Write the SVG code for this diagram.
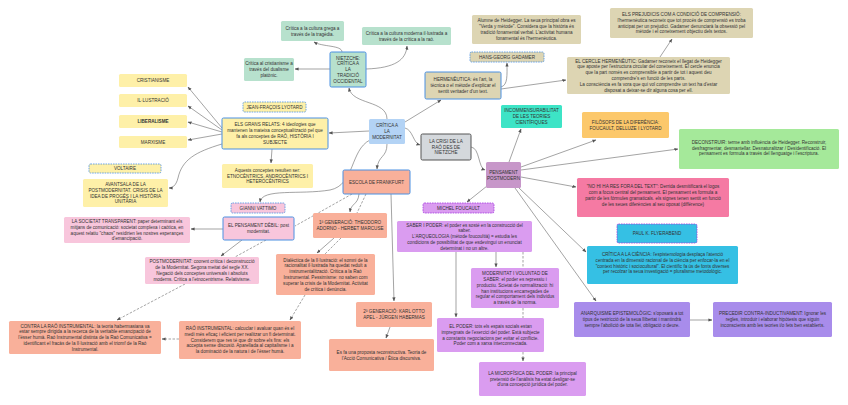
<svg xmlns="http://www.w3.org/2000/svg" width="848" height="405" viewBox="0 0 848 405">
<defs>
<marker id="ah" viewBox="0 0 10 10" refX="9" refY="5" markerWidth="4" markerHeight="4" markerUnits="userSpaceOnUse" orient="auto"><path d="M0,1 L10,5 L0,9 z" fill="#555"/></marker>
<style>
text{font-family:"Liberation Sans",Arial,sans-serif;font-size:4.6px;fill:#333;text-anchor:middle}
.b{font-weight:bold}
rect{rx:1.5;ry:1.5}
.c path{fill:none;stroke:#666;stroke-width:0.6;marker-end:url(#ah)}
.c .d{stroke-dasharray:2.5 1.5}
.c .n{marker-end:none}
.sel{stroke:#4a90e2;stroke-width:1}
.nm{stroke:#4a90e2;stroke-width:0.8;stroke-dasharray:1.6 0.9}
.np{stroke:#a53bdf;stroke-width:0.8;stroke-dasharray:1.6 0.9}
.yel{fill:#fef0a8}.grn{fill:#b7e1cd}.lb{fill:#b3d3f5}.pnk{fill:#f8c6dc}.sal{fill:#f9b09a}.tan{fill:#ddd5b3}
.gry{fill:#d4d8dc;stroke:#555;stroke-width:1}.mau{fill:#c797c9}.tea{fill:#3de4c6}.org{fill:#fcc86b}
.lg{fill:#a5e99a}.hp{fill:#f57aa3}.cy{fill:#35c0e4}.pur{fill:#a88ceb}.vio{fill:#da9cf0}
</style>
</defs>
<rect x="0" y="0" width="848" height="405" fill="#ffffff" rx="0" ry="0"/>
<g id="connectors" class="c">
<path d="M387,119 C387,100 352,105 349,88"/>
<path d="M342,52 C342,45 322,47 314,42"/>
<path d="M366,69 C395,68 406,60 407,46"/>
<path d="M330,69 L295,69"/>
<path d="M369,131 L329,133"/>
<path d="M222,128 L188,87"/>
<path d="M222,130 L188,106"/>
<path d="M222,132 L188,122"/>
<path d="M222,134 L188,140"/>
<path d="M222,144 C195,152 182,160 178,178 C176,186 172,188 169,188"/>
<path d="M272,149 L271,163"/>
<path d="M370,140 C350,150 355,185 330,190 C300,195 262,188 260,202"/>
<path d="M387,144 C387,158 378,155 377,169"/>
<path class="d n" d="M352,194 L295,226"/>
<path d="M223,229 L191,229"/>
<path d="M242,240 L221,256"/>
<path class="d n" d="M266,240 L235,257"/>
<path d="M359,194 C358,205 351,203 350,212"/>
<path class="d n" d="M366,194 L357,213"/>
<path d="M391,194 L394,301"/>
<path d="M334,238 L317,253"/>
<path class="d n" d="M341,238 L325,254"/>
<path class="d" d="M305,295 L290,320"/>
<path class="d" d="M179,339 L162,339"/>
<path class="d" d="M185,284 L117,320"/>
<path d="M390,327 L386,338"/>
<path d="M405,122 L441,100"/>
<path d="M501,87 C508,85 507,75 507,63"/>
<path d="M501,89 L566,80"/>
<path d="M660,57 L672,39"/>
<path d="M405,128 C413,130 413,143 420,145"/>
<path d="M471,147 C480,148 478,168 485,170"/>
<path d="M509,162 L521,129"/>
<path d="M521,167 L596,140"/>
<path d="M521,170 L678,149"/>
<path d="M521,177 L576,187"/>
<path d="M519,188 L586,252"/>
<path d="M515,188 L596,301"/>
<path d="M487,186 L467,202"/>
<path d="M496,252 L496,267"/>
<path class="d n" d="M523,252 L523,268"/>
<path d="M456,252 L456,317"/>
<path class="d" d="M523,308 L523,361"/>
<path d="M690,320 L712,320"/>
</g>
<g id="critica-modernitat"><rect class="lb" x="369" y="119" width="36" height="25"/><text x="387" y="127.3">CRÍTICA A</text><text x="387" y="133.1">LA</text><text x="387" y="138.9">MODERNITAT</text></g>
<g id="nietzsche"><rect class="grn sel" x="330" y="52" width="36" height="35"/><text x="348" y="59.5">NIETZCHE:</text><text x="348" y="65.3">CRÍTICA A</text><text x="348" y="71.1">LA</text><text x="348" y="76.9">TRADICIÓ</text><text x="348" y="82.7">OCCIDENTAL</text></g>
<g id="grega"><rect class="grn" x="281" y="21" width="63" height="20"/><text x="312.5" y="29.7">Crítica a la cultura grega a</text><text x="312.5" y="35.5">través de la tragèdia.</text></g>
<g id="moderna"><rect class="grn" x="362" y="27" width="89" height="18"/><text x="406.5" y="34.7">Crítica a la cultura moderna il·lustrada a</text><text x="406.5" y="40.5">través de la crítica a la raó.</text></g>
<g id="crit-cristianisme"><rect class="grn" x="244" y="58" width="50" height="23"/><text x="269" y="65.3">Crítica al cristianisme a</text><text x="269" y="71.1">través del dualisme</text><text x="269" y="76.9">platònic.</text></g>
<g id="lyotard"><rect class="yel nm" x="243" y="102" width="63" height="10"/><text x="274.5" y="108.6">JEAN-FRAÇOIS LYOTARD</text></g>
<g id="grans-relats"><rect class="yel sel" x="222" y="118" width="106" height="31"/><text x="275" y="126.4">ELS GRANS RELATS: 4 ideologies que</text><text x="275" y="132.2">mantenen la mateixa conceptualització pel que</text><text x="275" y="138">fa als conceptes de RAÓ, HISTÒRIA I</text><text x="275" y="143.8">SUBJECTE</text></g>
<g id="cristianisme"><rect class="yel" x="119" y="74" width="68" height="13"/><text x="153" y="82.1">CRISTIANISME</text></g>
<g id="illustracio"><rect class="yel" x="119" y="94" width="68" height="13"/><text x="153" y="102.1">IL·LUSTRACIÓ</text></g>
<g id="liberalisme"><rect class="yel" x="119" y="115" width="68" height="13"/><text class="b" x="153" y="123.1">LIBERALISME</text></g>
<g id="marxisme"><rect class="yel" x="119" y="136" width="68" height="12"/><text x="153" y="143.6">MARXISME</text></g>
<g id="voltaire"><rect class="yel nm" x="89" y="164" width="72" height="9"/><text x="125" y="170.1">VOLTAIRE</text></g>
<g id="avantsala"><rect class="yel" x="83" y="179" width="85" height="28"/><text x="125.5" y="185.9">AVANTSALA DE LA</text><text x="125.5" y="191.7">POSTMODERNITAT. CRISIS DE LA</text><text x="125.5" y="197.5">IDEA DE PROGÉS I LA HISTÒRIA</text><text x="125.5" y="203.3">UNITÀRIA</text></g>
<g id="aquests"><rect class="yel" x="222" y="164" width="91" height="24"/><text x="267.5" y="171.8">Aquests conceptes resulten ser:</text><text x="267.5" y="177.6">ETNOCÈNTRICS, ANDROCÈNTRICS I</text><text x="267.5" y="183.4">HETEROCÈNTRICS</text></g>
<g id="vattimo"><rect class="pnk nm" x="231" y="203" width="54" height="10"/><text x="258" y="209.6">GIANNI VATTIMO</text></g>
<g id="pensament-debil"><rect class="pnk sel" x="223" y="217" width="71" height="23"/><text x="258.5" y="227.2">EL PENSAMENT DÈBIL: post</text><text x="258.5" y="233">modernitat.</text></g>
<g id="societat"><rect class="pnk" x="64" y="217" width="126" height="26"/><text x="127" y="222.9">LA SOCIETAT TRANSPARENT: paper determinant els</text><text x="127" y="228.7">mitjans de comunicació: societat complexa i caòtica, en</text><text x="127" y="234.5">aquest relatiu "chaos" residirien les nostres esperançes</text><text x="127" y="240.3">d'emancipació.</text></g>
<g id="postmodernitat"><rect class="pnk" x="145" y="257" width="114" height="27"/><text x="202" y="263.4">POSTMODERNITAT: coorent crítica i deconstrucció</text><text x="202" y="269.2">de la Modernitat. Segona meitat del segle XX.</text><text x="202" y="275">Negació dels conceptes universals i absoluts</text><text x="202" y="280.8">moderns. Crítica a l'etnocentrisme. Relativisme.</text></g>
<g id="frankfurt"><rect class="sal sel" x="343" y="170" width="67" height="24"/><text x="376.5" y="183.6">ESCOLA DE FRANKFURT</text></g>
<g id="gen1"><rect class="sal" x="313" y="213" width="74" height="25"/><text x="350" y="224.2">1ª GENERACIÓ: THEODORO</text><text x="350" y="230">ADORNO - HERBET MARCUSE</text></g>
<g id="dialectica"><rect class="sal" x="276" y="254" width="99" height="41"/><text x="325.5" y="261.6">Dialèctica de la Il·lustració: el somni de la</text><text x="325.5" y="267.4">racionalitat il·lustrada ha quedat reduït a</text><text x="325.5" y="273.2">instrumentalització. Crítica a la Raó</text><text x="325.5" y="279">Instrumental. Pessimisme: no saben com</text><text x="325.5" y="284.8">superar la crisis de la Modernitat. Activitat</text><text x="325.5" y="290.6">de crítica i denúncia.</text></g>
<g id="gen2"><rect class="sal" x="356" y="302" width="76" height="25"/><text x="394" y="313.2">2ª GENERACIÓ: KARL OTTO</text><text x="394" y="319">APEL - JÜRGEN HABERMAS</text></g>
<g id="proposta"><rect class="sal" x="329" y="339" width="105" height="32"/><text x="381.5" y="353.7">Es fa una proposta reconstructiva. Teoria de</text><text x="381.5" y="359.5">l'Acció Comunicativa / Ètica discursiva.</text></g>
<g id="rao-instrumental"><rect class="sal" x="179" y="321" width="122" height="38"/><text x="240" y="330">RAÓ INSTRUMENTAL: calcuclar i avaluar quan és el</text><text x="240" y="335.8">medi més eficaç i eficient per realitzar un fi determinat.</text><text x="240" y="341.6">Considerem que res té que dir sobre els fins: els</text><text x="240" y="347.4">accepta sense discusió. Aparellada al capitalisme i a</text><text x="240" y="353.2">la dominació de la natura i de l'ésser humà.</text></g>
<g id="contra-rao"><rect class="sal" x="9" y="321" width="152" height="33"/><text x="85" y="327.5">CONTRA LA RAÓ INSTRUMENTAL: la teoria habermasiana va</text><text x="85" y="333.3">estar sempre dirigida a la recerca de la veritable emancipació de</text><text x="85" y="339.1">l'ésser humà. Raó Instrumental distinta de la Raó Comunicativa =</text><text x="85" y="344.9">identificant el fracàs de la Il·lustració amb el triomf de la Raó</text><text x="85" y="350.7">Instrumental.</text></g>
<g id="crisi-rao"><rect class="gry" x="421" y="134" width="50" height="26"/><text x="446" y="142.8">LA CRISI DE LA</text><text x="446" y="148.6">RAÓ DES DE</text><text x="446" y="154.4">NIETZCHE</text></g>
<g id="pensament-postmodern"><rect class="mau" x="486" y="162" width="35" height="26"/><text x="503.5" y="173.7">PENSAMENT</text><text x="503.5" y="179.5">POSTMODERN</text></g>
<g id="hermeneutica"><rect class="tan sel" x="425" y="72" width="76" height="27"/><text x="463" y="81.3">HERMENÈUTICA: és l'art, la</text><text x="463" y="87.1">tècnica o el mètode d'explicar el</text><text x="463" y="92.9">sentit veritader d'un text.</text></g>
<g id="gadamer"><rect class="tan nm" x="470" y="52" width="74" height="10"/><text x="507" y="58.6">HANS-GEORG GADAMER</text></g>
<g id="alumne"><rect class="tan" x="472" y="15" width="109" height="29"/><text x="526.5" y="22.4">Alumne de Heidegger. La seua principal obra es</text><text x="526.5" y="28.2">"Verda y mètode". Considera que la història és</text><text x="526.5" y="34">tradició fonamental verbal. L'activitat humana</text><text x="526.5" y="39.8">fonamental és l'hermenèutica.</text></g>
<g id="prejudicis"><rect class="tan" x="610" y="8" width="143" height="30"/><text x="681.5" y="15.9">ELS PREJUDICIS COM A CONDICIÓ DE COMPRENSIÓ:</text><text x="681.5" y="21.7">l'hermenèutica reconeix que tot procés de comprensió es troba</text><text x="681.5" y="27.5">anticipat per un prejudici. Gadamer denunciarà la obsessió pel</text><text x="681.5" y="33.3">mètode i el coneixement objectiu dels textos.</text></g>
<g id="cercle"><rect class="tan" x="567" y="57" width="163" height="37"/><text x="648.5" y="62.6">EL CERCLE HERMENÈUTIC: Gadamer reconeix el llegat de Heidegger</text><text x="648.5" y="68.4">que aposte per l'estructura circular del coneixement. El cercle enuncia</text><text x="648.5" y="74.2">que la part només es comprensible a partir de tot i aquest deu</text><text x="648.5" y="80">comprendre's en funció de les parts.</text><text x="648.5" y="85.8">La consciència es fa vora que qui vol comprendre un text ha d'estar</text><text x="648.5" y="91.6">disposat a deixar-se dir alguna cosa per ell.</text></g>
<g id="incommensurabilitat"><rect class="tea" x="501" y="105" width="61" height="23"/><text x="531.5" y="112.3">INCOMMENSURABILITAT</text><text x="531.5" y="118.1">DE LES TEORIES</text><text x="531.5" y="123.9">CIENTÍFIQUES</text></g>
<g id="filosofs"><rect class="org" x="582" y="112" width="87" height="26"/><text x="625.5" y="123.7">FILÒSOFS DE LA DIFERÈNCIA:</text><text x="625.5" y="129.5">FOUCAULT, DELLUZE I LYOTARD</text></g>
<g id="deconstruir"><rect class="lg" x="679" y="129" width="160" height="40"/><text x="759" y="143.8">DECONSTRUIR: terme amb influència de Heidegger. Reconstruir,</text><text x="759" y="149.6">desfragmentar, desmantellar. Desnaturalitzar / Desidentificació. El</text><text x="759" y="155.4">pensament es formula a través del llenguatge i l'escriptura.</text></g>
<g id="no-hi-ha"><rect class="hp" x="577" y="178" width="152" height="39"/><text x="653" y="188.4">"NO HI HA RES FORA DEL TEXT": Derrida desmitificarà el logos</text><text x="653" y="194.2">com a focus central del pensament. El pensament es formula a</text><text x="653" y="200">partir de les fórmules gramaticals. els signes tenen sentit en funció</text><text x="653" y="205.8">de les seues diferències al seu oposat (différence)</text></g>
<g id="flyerabend"><rect class="cy np" x="617" y="224" width="80" height="19"/><text x="657" y="235.1">PAUL K. FLYERABEND</text></g>
<g id="critica-ciencia"><rect class="cy" x="587" y="246" width="151" height="38"/><text x="662.5" y="255.9">CRÍTICA A LA CIÈNCIA: l'espistemologia desplaça l'atenció</text><text x="662.5" y="261.7">centrada en la dimensió racional de la ciència per enfocar-la en  el</text><text x="662.5" y="267.5">"context històric i sociocultural". El científic fa ús de fonts diverses</text><text x="662.5" y="273.3">per recolzar la seua investigació = pluralisme metodològic.</text></g>
<g id="anarquisme"><rect class="pur" x="574" y="302" width="116" height="35"/><text x="632" y="315.3">ANARQUISME EPISTEMOLÒGIC: s'oposarà a tot</text><text x="632" y="321.1">tipus de restricció de la seua llibertat i mantindrà</text><text x="632" y="326.9">sempre l'abolició de tota llei, obligació o deure.</text></g>
<g id="precedir"><rect class="pur" x="713" y="302" width="119" height="35"/><text x="772.5" y="315.3">PRECEDIR CONTRA-INDUCTIVAMENT: Ignorar les</text><text x="772.5" y="321.1">regles, introduir i elaborar hipòtesis que siguin</text><text x="772.5" y="326.9">inconscients amb les teories i/o fets ben establerts.</text></g>
<g id="foucault"><rect class="vio np" x="423" y="203" width="71" height="10"/><text x="458.5" y="209.6">MICHEL FOUCAULT</text></g>
<g id="saber-poder"><rect class="vio" x="397" y="221" width="135" height="31"/><text x="464.5" y="226.5">SABER I PODER: el poder es sosté en la construcció del</text><text x="464.5" y="232.3">saber.</text><text x="464.5" y="238.1">L'ARQUEOLOGIA (mètode foucoultià) = estudia les</text><text x="464.5" y="243.9">condicions de possibilitat de que esdevingui un enunciat</text><text x="464.5" y="249.7">determinat i no un altre.</text></g>
<g id="voluntad-saber"><rect class="vio" x="471" y="268" width="88" height="40"/><text x="515" y="275.1">MODERNITAT I VOLUNTAD DE</text><text x="515" y="280.9">SABER: el poder es repressiu i</text><text x="515" y="286.7">productiu. Scietat de normalització: hi</text><text x="515" y="292.5">han institucions encarregades de</text><text x="515" y="298.3">regular el comportament dels individus</text><text x="515" y="304.1">a través de la norma.</text></g>
<g id="el-poder"><rect class="vio" x="437" y="318" width="107" height="34"/><text x="490.5" y="327.9">EL PODER: tots els espais socials estan</text><text x="490.5" y="333.7">impregnats de l'exercici del poder. Està subjecte</text><text x="490.5" y="339.5">a constants negociacions per evitar el conflicte.</text><text x="490.5" y="345.3">Poder com a xarxa interconnectada.</text></g>
<g id="microfisica"><rect class="vio" x="479" y="362" width="107" height="34"/><text x="532.5" y="374.8">LA MICROFÍSICA DEL PODER: la principal</text><text x="532.5" y="380.6">pretensió de l'anàlisis ha estat desligar-se</text><text x="532.5" y="386.4">d'una concepció jurídica del poder.</text></g>
</svg>
